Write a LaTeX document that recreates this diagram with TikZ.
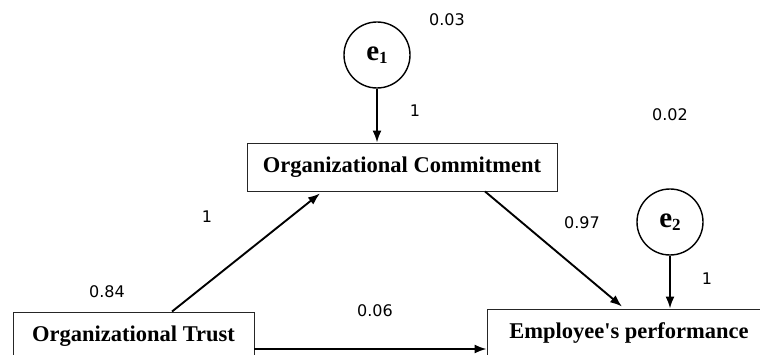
\documentclass[tikz,border=0pt]{standalone}
\usepackage{fontspec}
\setmainfont{Liberation Serif}
\newfontfamily\numfont{DejaVu Sans}
\usepackage{tikz}
\usetikzlibrary{arrows.meta}
\usetikzlibrary{positioning}
\usetikzlibrary{calc}
\tikzset{
  varbox/.style = {draw=black!85, line width=0.9pt, inner sep=0pt,
    minimum height=48pt, font=\fontsize{22.5}{26}\selectfont\bfseries},% observed variable
  errnode/.style = {circle, draw=black, line width=1.4pt, inner sep=0pt,
    minimum size=66pt, font=\fontsize{29}{32}\selectfont\bfseries},% error term
  coef/.style = {font=\numfont\fontsize{16}{18}\selectfont}% path coefficient
}
\newcommand{\errlabel}[1]{e\raisebox{-3pt}{\fontsize{17}{17}\selectfont #1}}

\begin{document}
\begin{tikzpicture}[x=1pt,y=-1pt,->,>={Latex[length=12pt,width=9pt]},line width=1.9pt]
\clip (0,0) rectangle (760,355);
\node [errnode] (e1) at (377,55) {\errlabel{1}};
\node [errnode] (e2) at (670,222) {\errlabel{2}};
\node [varbox, minimum width=310pt] (oc) at (402,167) {Organizational Commitment};
\node [varbox, minimum width=241pt] (ot) at (133.5,336) {Organizational Trust};
\node [varbox, minimum width=284pt] (ep) at (629,333) {Employee\textquotesingle s performance};

\node [coef] at (e1) [xshift=70pt,yshift=35pt] {0.03};
\node [coef] at (e1) [xshift=38pt,yshift=-56pt] {1};
\node [coef] at (e2) [xshift=0pt,yshift=107pt] {0.02};
\node [coef] at (e2) [xshift=37pt,yshift=-57pt] {1};
\node [coef] at (ot) [xshift=-26.5pt,yshift=44pt] {0.84};
\node [coef] at (oc) [xshift=-195pt,yshift=-50pt] {1};
\node [coef] at (ot) [xshift=241.5pt,yshift=25pt] {0.06};
\node [coef] at (oc) [xshift=180pt,yshift=-56pt] {0.97};

\draw (e1.south) -- (e1.south |- oc.north);
\draw (e2.south) -- (e2.south |- ep.north);
\draw ([xshift=38.5pt]ot.north) -- ([xshift=-82pt,yshift=-2pt]oc.south);
\draw ([xshift=83pt]oc.south) -- ([xshift=-7pt,yshift=2pt]ep.north);
\draw ([yshift=-13pt]ot.east) -- ([yshift=-13pt]ot.east -| ep.west);
\end{tikzpicture}
\end{document}
